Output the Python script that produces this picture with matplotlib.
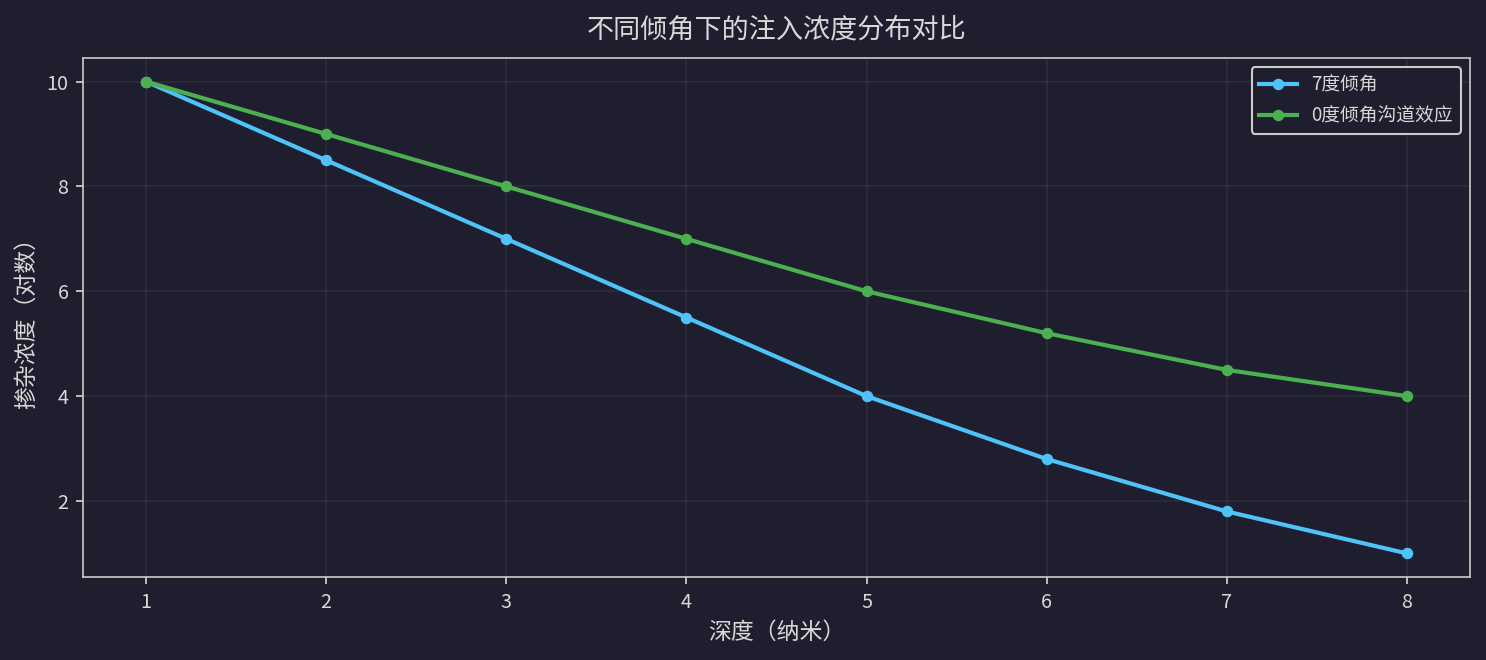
import matplotlib
matplotlib.use("Agg")
import matplotlib.pyplot as plt

plt.rcParams['font.family'] = ['Noto Sans CJK SC', 'DejaVu Sans']
plt.rcParams['axes.unicode_minus'] = False

depth = [1, 2, 3, 4, 5, 6, 7, 8]
tilt7 = [10, 8.5, 7, 5.5, 4, 2.8, 1.8, 1.0]
tilt0 = [10, 9, 8, 7, 6, 5.2, 4.5, 4.0]
labels = ['7度倾角', '0度倾角沟道效应']
title = '不同倾角下的注入浓度分布对比'
xlabel = '深度（纳米）'
ylabel = '掺杂浓度（对数）'

bg = '#1e1e2e'
fg = '#d8d8d8'

fig = plt.figure(figsize=(1486/150, 660/150), dpi=150, facecolor=bg)
ax = fig.add_axes([83/1486, 1-577/660, (1470-83)/1486, (577-58)/660])
ax.set_facecolor(bg)

ax.plot(depth, tilt7, color='#4fc3f7', linewidth=2, marker='o', markersize=4.5, label=labels[0])
ax.plot(depth, tilt0, color='#4caf50', linewidth=2, marker='o', markersize=4.5, label=labels[1])

ax.set_title(title, color=fg, fontsize=13, pad=10)
ax.set_xlabel(xlabel, color=fg, fontsize=11)
ax.set_ylabel(ylabel, color=fg, fontsize=11)
ax.tick_params(colors=fg, labelsize=9.5)
for s in ax.spines.values():
    s.set_color('#cccccc')
ax.grid(True, color='#ffffff', alpha=0.06, linewidth=0.8)
ax.set_yticks([2, 4, 6, 8, 10])

leg = ax.legend(loc='upper right', fontsize=9, facecolor=bg, edgecolor='#cccccc', framealpha=1)
for t in leg.get_texts():
    t.set_color(fg)

fig.savefig('out.png', dpi=150, facecolor=bg)
